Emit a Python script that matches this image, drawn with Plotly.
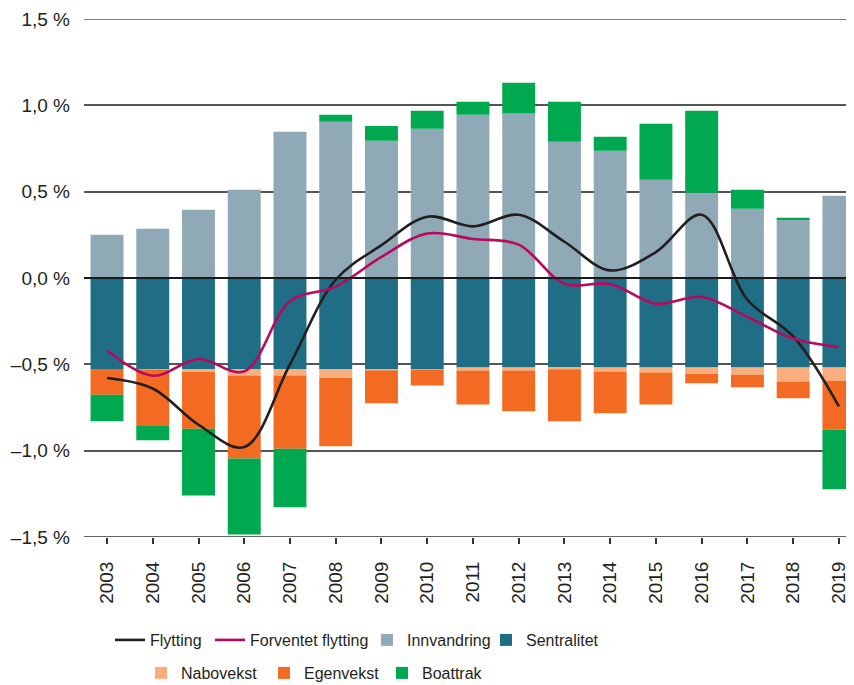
import plotly.graph_objects as go

years = list(range(2003, 2020))

innvandring = [0.250, 0.285, 0.395, 0.511, 0.847, 0.905, 0.795, 0.865, 0.945,
               0.953, 0.789, 0.737, 0.569, 0.494, 0.401, 0.338, 0.476]
sentralitet = [-0.527, -0.527, -0.527, -0.527, -0.527, -0.527, -0.527, -0.527, -0.519,
               -0.519, -0.519, -0.519, -0.519, -0.519, -0.519, -0.519, -0.519]
nabovekst = [0.000, -0.005, -0.016, -0.037, -0.037, -0.050, -0.008, -0.004, -0.016,
             -0.016, -0.010, -0.023, -0.029, -0.035, -0.041, -0.081, -0.076]
egenvekst = [-0.149, -0.321, -0.330, -0.481, -0.425, -0.398, -0.191, -0.091, -0.197,
             -0.237, -0.301, -0.242, -0.184, -0.056, -0.073, -0.097, -0.282]
boattrak = [-0.154, -0.087, -0.386, -0.440, -0.339, 0.040, 0.086, 0.104, 0.076,
            0.178, 0.232, 0.081, 0.324, 0.475, 0.110, 0.011, -0.347]
flytting = [-0.579, -0.640, -0.850, -0.979, -0.500, -0.010, 0.190, 0.355, 0.299,
            0.366, 0.210, 0.044, 0.150, 0.366, -0.126, -0.338, -0.743]
forventet = [-0.419, -0.566, -0.469, -0.541, -0.135, -0.050, 0.122, 0.258, 0.226,
             0.193, -0.033, -0.035, -0.149, -0.110, -0.226, -0.351, -0.400]

y_tickvals = [1.5, 1.0, 0.5, 0.0, -0.5, -1.0, -1.5]
y_ticktext = ["1,5 %", "1,0 %", "0,5 %", "0,0 %", "\u20130,5 %", "\u20131,0 %", "\u20131,5 %"]

C_INN = "#8FA9B7"
C_SEN = "#1F6E85"
C_NAB = "#F9AE7E"
C_EGE = "#F36A23"
C_BOA = "#00A84F"
C_FLY = "#231F20"
C_FOR = "#B8095F"
TXT = "#231F20"

TICK_FONT = dict(family="Liberation Sans, Arial, sans-serif", size=19, color=TXT)
LEG_FONT = dict(family="Liberation Sans, Arial, sans-serif", size=16, color=TXT)

fig = go.Figure()

bar_w = 0.72
fig.add_trace(go.Scatter(x=years, y=flytting, name="Flytting", mode="lines",
                         line=dict(color=C_FLY, width=2.6, shape="spline", smoothing=1.0),
                         legend="legend"))
fig.add_trace(go.Scatter(x=years, y=forventet, name="Forventet flytting", mode="lines",
                         line=dict(color=C_FOR, width=2.6, shape="spline", smoothing=1.0),
                         legend="legend2"))
fig.add_trace(go.Bar(x=years, y=innvandring, name="Innvandring", marker_color=C_INN,
                     marker_line_width=0, width=bar_w, legend="legend3"))
fig.add_trace(go.Bar(x=years, y=sentralitet, name="Sentralitet", marker_color=C_SEN,
                     marker_line_width=0, width=bar_w, legend="legend4"))
fig.add_trace(go.Bar(x=years, y=nabovekst, name="Nabovekst", marker_color=C_NAB,
                     marker_line_width=0, width=bar_w, legend="legend5"))
fig.add_trace(go.Bar(x=years, y=egenvekst, name="Egenvekst", marker_color=C_EGE,
                     marker_line_width=0, width=bar_w, legend="legend6"))
fig.add_trace(go.Bar(x=years, y=boattrak, name="Boattrak", marker_color=C_BOA,
                     marker_line_width=0, width=bar_w, legend="legend7"))

# The page body has an 8px margin, so the figure starts at (8, 8) in the window.
OFF = 8
W, H = 854 - OFF, 685 - OFF
# desired plot area in window px: left 84, top 19, right 854, bottom 537
L = 84 - OFF
T = 19 - OFF
R = 0
B = H - (537 - OFF)

# legend entries: (legend id, text start px in window, row centre px in window)
leg_pos = {
    "legend": (152, 640),
    "legend2": (252, 640),
    "legend3": (409, 640),
    "legend4": (528, 640),
    "legend5": (183, 673),
    "legend6": (306, 673),
    "legend7": (424, 673),
}
legends = {}
for k, (tx, cy) in leg_pos.items():
    legends[k] = dict(x=(tx - OFF - 42) / W, y=1 - (cy - OFF) / H,
                      xref="container", yref="container",
                      xanchor="left", yanchor="middle",
                      orientation="h", font=LEG_FONT, bgcolor="rgba(0,0,0,0)",
                      borderwidth=0, itemwidth=30)

shapes = [
    dict(type="line", xref="paper", yref="y", x0=0, x1=1, y0=0, y1=0,
         line=dict(color="#1a1a1a", width=2.2), layer="above"),
    dict(type="line", xref="paper", yref="y", x0=0, x1=1, y0=-1.5, y1=-1.5,
         line=dict(color="#333333", width=1.6), layer="above"),
    dict(type="line", xref="paper", yref="y", x0=0, x1=1, y0=1.5, y1=1.5,
         line=dict(color="#555555", width=1.6), layer="below"),
]

fig.update_layout(
    width=W, height=H,
    showlegend=True,
    margin=dict(l=L, r=R, t=T, b=B, pad=0, autoexpand=False),
    paper_bgcolor="white", plot_bgcolor="white",
    barmode="relative",
    shapes=shapes,
    xaxis=dict(range=[2002.497, 2019.33], tickvals=years, ticktext=[str(y) for y in years],
               tickangle=-90, ticks="outside", ticklen=6, tickwidth=1.5, tickcolor="#333333",
               showgrid=False, zeroline=False, showline=False, tickfont=TICK_FONT,
               ticklabelstandoff=10, automargin=False),
    yaxis=dict(range=[-1.5, 1.5], tickvals=y_tickvals, ticktext=y_ticktext,
               showgrid=True, gridcolor="#555555", gridwidth=1.6,
               zeroline=False, showline=False, ticks="",
               tickfont=TICK_FONT, ticklabelstandoff=13, automargin=False),
    **legends,
)

fig.write_html("out.html")
